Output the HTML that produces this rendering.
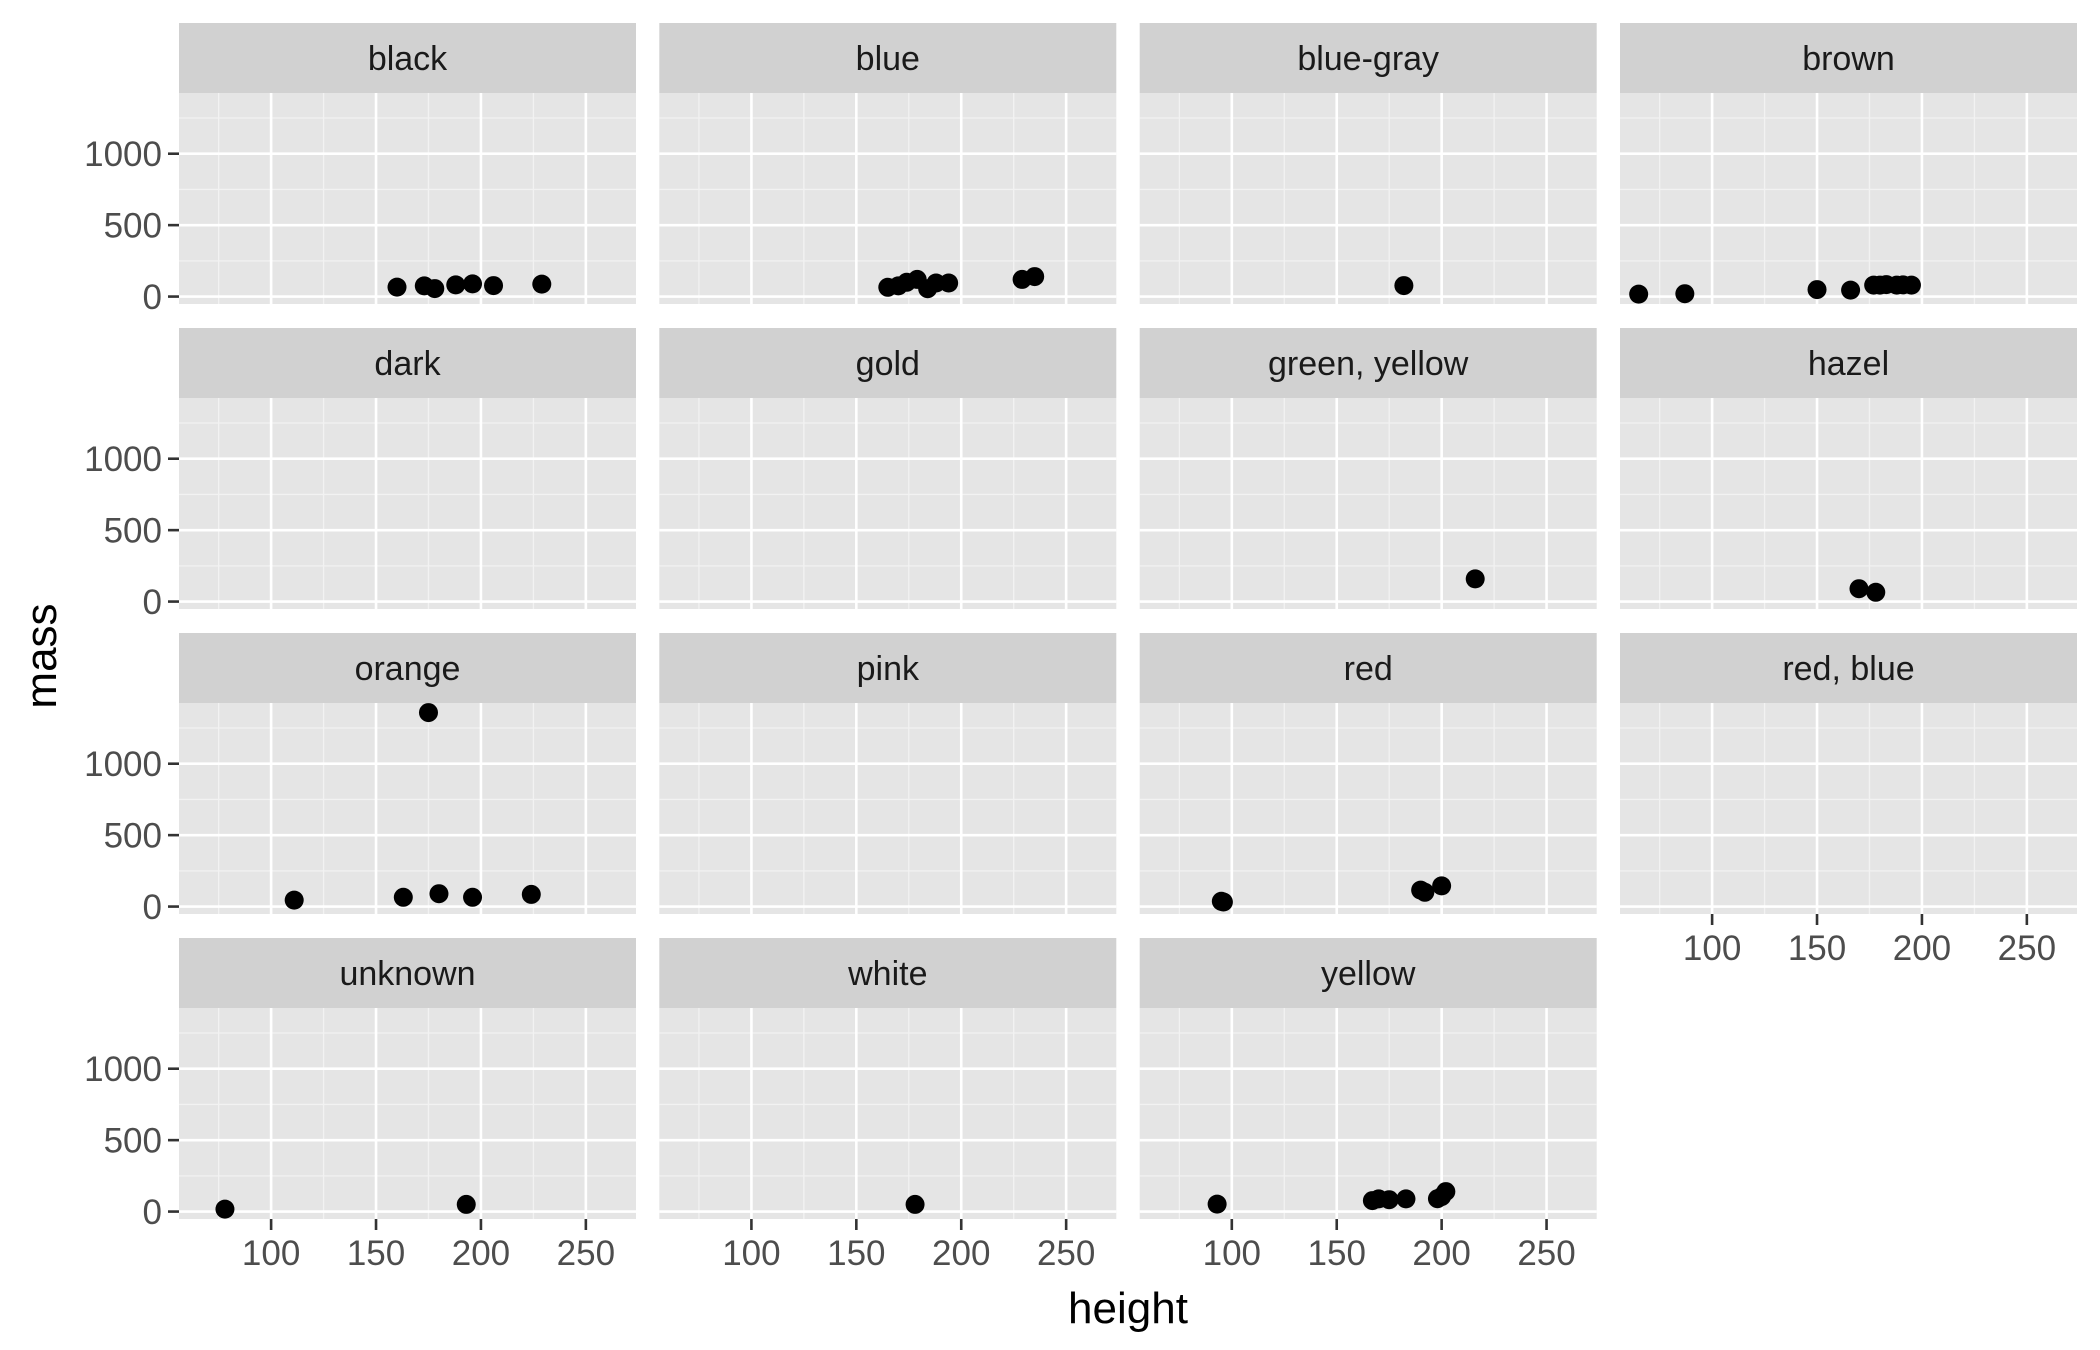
<!DOCTYPE html>
<html><head><meta charset="utf-8"><style>html,body{margin:0;padding:0;background:#fff}svg{display:block}</style></head>
<body>
<svg id="chart" width="2100" height="1350" xmlns="http://www.w3.org/2000/svg" font-family="'Liberation Sans', Arial, sans-serif"></svg>
<script>
const facets = ["black","blue","blue-gray","brown","dark","gold","green, yellow","hazel","orange","pink","red","red, blue","unknown","white","yellow"];
const heightsBlack = [160,173,178,188,196,206,229];
const massBlack = [66,75,56,82,89,77,87];
const heightsBlue = [165,170,174,179,184,188,194,229,235];
const massBlue = [65,75,100,120,55,95,95,120,140];
const heightsBlueGray = [182];
const massBlueGray = [77];
const heightsBrown = [65,87,150,166,177,180,183,188,191,195];
const massBrown = [17,20,49,45,80,80,84,80,82,80];
const heightsGreenYellow = [216];
const massGreenYellow = [159];
const heightsHazel = [170,178];
const massHazel = [90,65];
const heightsOrange = [111,163,175,180,196,224];
const massOrange = [45,65,1358,90,65,85];
const heightsRed = [95,96,190,192,200];
const massRed = [37,32,115,100,145];
const heightsUnknown = [78,193];
const massUnknown = [17,50];
const heightsWhite = [178];
const massWhite = [50];
const heightsYellow = [93,167,170,175,183,198,200,202];
const massYellow = [52,77,89,83,89,90,105,140];
const xTicks = [100,150,200,250];
const yTicks = [0,500,1000];

const series = {
 "black":[heightsBlack,massBlack],"blue":[heightsBlue,massBlue],"blue-gray":[heightsBlueGray,massBlueGray],
 "brown":[heightsBrown,massBrown],"green, yellow":[heightsGreenYellow,massGreenYellow],"hazel":[heightsHazel,massHazel],
 "orange":[heightsOrange,massOrange],"red":[heightsRed,massRed],"unknown":[heightsUnknown,massUnknown],
 "white":[heightsWhite,massWhite],"yellow":[heightsYellow,massYellow]
};

const NS="http://www.w3.org/2000/svg";
const svg=document.getElementById('chart');
function mk(tag,attrs,parent){const e=document.createElementNS(NS,tag);for(const k in attrs)e.setAttribute(k,attrs[k]);(parent||svg).appendChild(e);return e;}
const colL=[179,659.3,1139.7,1620], W=457;
const rowT=[23,328,633,938], stripH=70, panelH=211;
const xMin=56.1,xMax=273.9,yMin=-52,yMax=1425;
function sx(c,v){return colL[c]+(v-xMin)/(xMax-xMin)*W;}
function sy(r,v){const b=rowT[r]+stripH+panelH;return b-(v-yMin)/(yMax-yMin)*panelH;}

facets.forEach((f,i)=>{
 const r=Math.floor(i/4), c=i%4;
 const g=mk('g',{});
 
 
 const strip=mk('rect',{x:colL[c],y:rowT[r],width:W,height:stripH,fill:'#d1d1d1'},g);
 
 
 const st=mk('text',{x:colL[c]+W/2,y:rowT[r]+stripH/2+12,'text-anchor':'middle','font-size':34,fill:'#1a1a1a'},g);
 st.textContent=f;
 
 
 const top=rowT[r]+stripH, bot=top+panelH;
 const bg=mk('rect',{x:colL[c],y:top,width:W,height:panelH,fill:'#e5e5e5'},g);
 
 
 for(let v=75;v<xMax;v+=50){const x=sx(c,v);mk('line',{x1:x,x2:x,y1:top,y2:bot,stroke:'#f2f2f2','stroke-width':1.3},g);}
 for(let v=250;v<yMax;v+=500){const y=sy(r,v);mk('line',{x1:colL[c],x2:colL[c]+W,y1:y,y2:y,stroke:'#f2f2f2','stroke-width':1.3},g);}
 xTicks.forEach(v=>{const x=sx(c,v);mk('line',{x1:x,x2:x,y1:top,y2:bot,stroke:'#fff','stroke-width':2.6},g);});
 yTicks.forEach(v=>{const y=sy(r,v);mk('line',{x1:colL[c],x2:colL[c]+W,y1:y,y2:y,stroke:'#fff','stroke-width':2.6},g);});
 const d=series[f];
 if(d){d[0].forEach((h,k)=>{const p=mk('circle',{cx:sx(c,h),cy:sy(r,d[1][k]),r:9.5,fill:'#000'},g);
   
   });}
 if(c===0){yTicks.forEach(v=>{const y=sy(r,v);mk('line',{x1:colL[0]-11,x2:colL[0],y1:y,y2:y,stroke:'#333','stroke-width':2.6},g);
   const t=mk('text',{x:colL[0]-17,y:y+12.5,'text-anchor':'end','font-size':35,fill:'#4d4d4d'},g);t.textContent=v;
   
   });}
 if(r===3||(r===2&&c===3)){xTicks.forEach(v=>{const x=sx(c,v);mk('line',{x1:x,x2:x,y1:bot,y2:bot+11,stroke:'#333','stroke-width':2.6},g);
   const t=mk('text',{x:x,y:bot+46,'text-anchor':'middle','font-size':35,fill:'#4d4d4d'},g);t.textContent=v;
   
   });}
});
const xt=mk('text',{x:1128,y:1323,'text-anchor':'middle','font-size':44,fill:'#000'});
xt.textContent='height';


const yt=mk('text',{x:0,y:0,'text-anchor':'middle','font-size':44,fill:'#000',transform:'translate(56,656) rotate(-90)'});
yt.textContent='mass';


</script>
</body></html>
